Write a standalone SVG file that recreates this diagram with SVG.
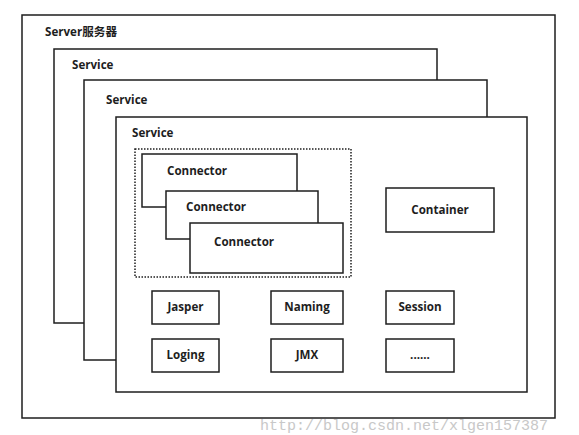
<svg xmlns="http://www.w3.org/2000/svg" width="579" height="435" viewBox="0 0 579 435">
<style>
.box{fill:#fff;stroke:#1e1e1e;stroke-width:1.5}
.lbl{font-family:"Open Sans","Noto Sans CJK SC",sans-serif;font-weight:bold;font-size:11.6px;fill:#1e1e1e}
.c{text-anchor:middle}
.wm{font-family:"Liberation Mono",monospace;font-size:15px;fill:#c8c8c8}
</style>
<rect width="579" height="435" fill="#fff"/>
<g id="server"><rect class="box" x="22" y="15" width="533" height="403"/><text class="lbl" x="45" y="36">Server服务器</text></g>
<g id="service1"><rect class="box" x="54" y="49" width="383" height="274"/><text class="lbl" x="72" y="69">Service</text></g>
<g id="service2"><rect class="box" x="84" y="80" width="403" height="280"/><text class="lbl" x="106" y="104">Service</text></g>
<g id="service3"><rect class="box" x="116" y="117" width="411" height="275"/><text class="lbl" x="132" y="137">Service</text></g>
<g id="connectors-group"><rect x="135" y="149" width="216" height="128" fill="none" stroke="#1e1e1e" stroke-width="1.5" stroke-dasharray="1.5,1.5"/></g>
<g id="connector1"><rect class="box" x="142" y="154" width="155" height="53"/><text class="lbl" x="167" y="175">Connector</text></g>
<g id="connector2"><rect class="box" x="166" y="191" width="152" height="48"/><text class="lbl" x="186" y="211">Connector</text></g>
<g id="connector3"><rect class="box" x="190" y="223" width="153" height="50"/><text class="lbl" x="214" y="246">Connector</text></g>
<g id="container"><rect class="box" x="386" y="188" width="108" height="44"/><text class="lbl c" x="440" y="214">Container</text></g>
<g id="jasper"><rect class="box" x="152" y="291" width="67" height="33"/><text class="lbl c" x="185.5" y="311">Jasper</text></g>
<g id="naming"><rect class="box" x="271" y="291" width="72" height="33"/><text class="lbl c" x="307" y="311">Naming</text></g>
<g id="session"><rect class="box" x="386" y="291" width="68" height="33"/><text class="lbl c" x="420" y="311">Session</text></g>
<g id="loging"><rect class="box" x="152" y="339" width="67" height="33"/><text class="lbl c" x="185.5" y="359">Loging</text></g>
<g id="jmx"><rect class="box" x="271" y="339" width="72" height="33"/><text class="lbl c" x="307" y="359">JMX</text></g>
<g id="more"><rect class="box" x="386" y="339" width="68" height="33"/><text class="lbl c" x="420" y="359">......</text></g>
<g id="edges"></g>
<text class="wm" x="260" y="430">http://blog.csdn.net/xlgen157387</text>
</svg>
